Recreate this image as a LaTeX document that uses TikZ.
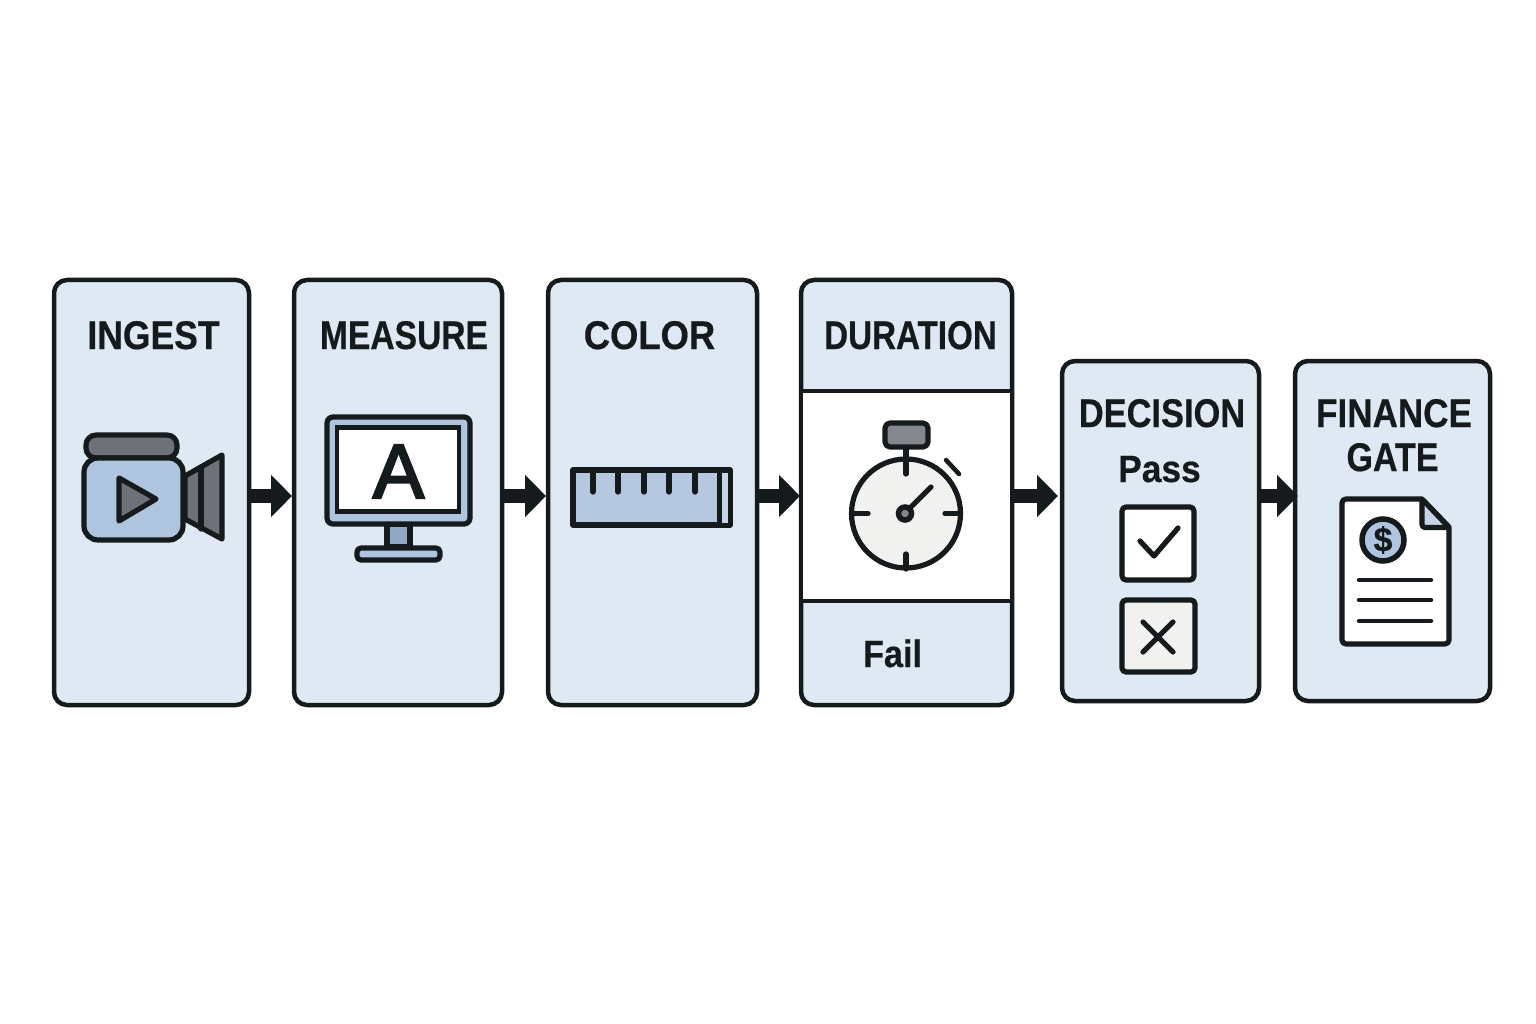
\documentclass[tikz,border=0pt]{standalone}
\usepackage{fontspec}
\usepackage{graphicx}
\setmainfont{Liberation Sans}[BoldFeatures={FakeBold=0.5}]
\newfontfamily\letterfont{Liberation Sans}[FakeBold=3]
\usetikzlibrary{arrows.meta}
\definecolor{ink}{HTML}{151A1C}
\definecolor{panel}{HTML}{DFE9F4}
\definecolor{blueA}{HTML}{AEC4DF}
\definecolor{blueB}{HTML}{B6C8E0}
\definecolor{blueC}{HTML}{8FA8C4}
\definecolor{greyA}{HTML}{6F7178}
\definecolor{greyB}{HTML}{85878F}
\definecolor{paleg}{HTML}{F1F1EF}
\definecolor{foldc}{HTML}{C6D4E6}
\newcommand{\sq}[2]{\scalebox{#1}[1]{#2}}
\tikzset{
  panelbox/.style={draw=ink,fill=panel,line width=4.5pt,rounded corners=13pt,inner sep=0pt,outer sep=0pt},
  title/.style={anchor=base,inner sep=0pt,text=ink,font=\bfseries\fontsize{40}{40}\selectfont},
  sub/.style={anchor=base,inner sep=0pt,text=ink,font=\bfseries\fontsize{38}{38}\selectfont},
  flow/.style={draw=ink,line width=14.5pt,-{Triangle[length=21pt,width=41pt]}},
  icon/.style={draw=ink,line width=5.2pt,line join=round,line cap=round},
  thin/.style={draw=ink,line width=4.5pt,line cap=round},
}
\begin{document}
\begin{tikzpicture}[x=1pt,y=-1pt]
\useasboundingbox (0,0) rectangle (1536,1024);
\fill[white] (0,0) rectangle (1536,1024);
\coordinate (rowy) at (0,496);

% panels
\node[panelbox,minimum width=195pt,minimum height=425pt] (ingest) at (151.5,492.5) {};
\node[panelbox,minimum width=208pt,minimum height=425pt] (measure) at (398,492.5) {};
\node[panelbox,minimum width=209pt,minimum height=425pt] (color) at (652.5,492.5) {};
\node[panelbox,minimum width=211pt,minimum height=425pt] (duration) at (906.5,492.5) {};
\node[draw=ink,fill=white,line width=4.5pt,inner sep=0pt,minimum width=211pt,minimum height=210pt] (durmid) at (906.5,496) {};
\node[panelbox,minimum width=197pt,minimum height=340pt] (decision) at (1160.5,531) {};
\node[panelbox,minimum width=195pt,minimum height=340pt] (finance) at (1392.5,531) {};

% titles
\node[title] (t1) at (153.5,349) {\sq{.887}{INGEST}};
\node[title] (t2) at (404,349) {\sq{.84}{MEASURE}};
\node[title] (t3) at (649.5,349) {\sq{.91}{COLOR}};
\node[title] (t4) at (910.5,349) {\sq{.83}{DURATION}};
\node[title] (t5) at (1162,427) {\sq{.86}{DECISION}};
\node[title] (t6) at (1394,427) {\sq{.877}{FINANCE}};
\node[title] (t7) at (1392.5,471) {\sq{.85}{GATE}};
\node[sub] (pass) at (1159.5,482) {\sq{.93}{Pass}};
\node[sub] (fail) at (892.5,667) {\sq{.9}{Fail}};

% camera
\draw[icon,fill=greyA,rounded corners=10pt] (86,435) rectangle (177,458);
\draw[icon,fill=greyA] (185,476) -- (222,455) -- (222,539) -- (185,519) -- cycle;
\draw[icon] (201,467) -- (201,529);
\draw[icon,fill=blueA,rounded corners=14pt] (84,458) rectangle (183,540);
\draw[icon,fill=greyA] (119,478) -- (156,499) -- (119,521) -- cycle;

% monitor
\draw[icon,fill=blueC] (387,524) rectangle (410,547);
\draw[icon,fill=blueA,rounded corners=4pt] (357,548) rectangle (440,560);
\draw[icon,fill=blueA,rounded corners=6pt] (327,417) rectangle (470,524);
\node[draw=ink,fill=white,line width=4.5pt,inner sep=0pt,minimum width=122pt,minimum height=84pt] (screen) at (398,469.5) {};
\node[anchor=base,inner sep=0pt,text=ink,font=\letterfont\fontsize{77}{77}\selectfont] (letter) at (398.5,498) {A};

% ruler
\draw[draw=ink,fill=blueB,line width=5.2pt,line join=round] (573,470) rectangle (730,525);
\fill[blueA!70!white] (720,472.5) rectangle (727.5,522.5);
\draw[draw=ink,line width=5pt] (719,470) -- (719,525);
\foreach \tx in {593,618,644,669,695}{\draw[icon] (\tx,470) -- (\tx,492);}

% stopwatch
\draw[icon,fill=greyB,rounded corners=5pt] (885,423) rectangle (928,447);
\draw[icon,fill=paleg] (906,513.5) circle[radius=54.5];
\draw[icon] (906,449) -- (906,474);
\draw[icon] (853,513.5) -- (868,513.5);
\draw[icon] (945,513.5) -- (960,513.5);
\draw[icon] (906,554) -- (906,569);
\draw[thin] (946,460) -- (959,474);
\draw[icon] (910,508) -- (931,487);
\draw[draw=ink,fill=greyB,line width=5.5pt] (905,513.5) circle[radius=6.5];

% decision boxes
\draw[icon,fill=white,rounded corners=4pt] (1122,507) rectangle (1194,580);
\draw[icon] (1140,541) -- (1154,556) -- (1178,528);
\draw[icon,fill=paleg,rounded corners=4pt] (1122,600) rectangle (1195,672);
\draw[icon] (1143,622) -- (1173,652);
\draw[icon] (1173,622) -- (1143,652);

% document
\draw[icon,fill=white] (1346,499) -- (1422,499) -- (1449,527) -- (1449,640) arc[start angle=0,end angle=90,radius=4] -- (1346,644) arc[start angle=90,end angle=180,radius=4] -- (1342,503) arc[start angle=180,end angle=270,radius=4] -- cycle;
\draw[icon,fill=foldc,rounded corners=3pt] (1422,499) -- (1422,527.5) -- (1449,527.5) -- cycle;
\draw[draw=ink,fill=blueA,line width=5.5pt] (1383,540) circle[radius=21];
\node[inner sep=0pt,text=ink,font=\bfseries\fontsize{34}{34}\selectfont] (dollar) at (1383,540) {\$};
\draw[thin] (1359,580) -- (1431,580);
\draw[thin] (1359,600) -- (1431,600);
\draw[thin] (1359,621) -- (1431,621);

% connectors
\draw[flow,shorten >=2pt] (ingest.east |- rowy) -- (measure.west |- rowy);
\draw[flow,shorten >=2pt] (measure.east |- rowy) -- (color.west |- rowy);
\draw[flow,shorten >=1pt] (color.east |- rowy) -- (duration.west |- rowy);
\draw[flow,shorten >=4pt] (duration.east |- rowy) -- (decision.west |- rowy);
\draw[flow,shorten >=-3pt] (decision.east |- rowy) -- (finance.west |- rowy);
\end{tikzpicture}
\end{document}
